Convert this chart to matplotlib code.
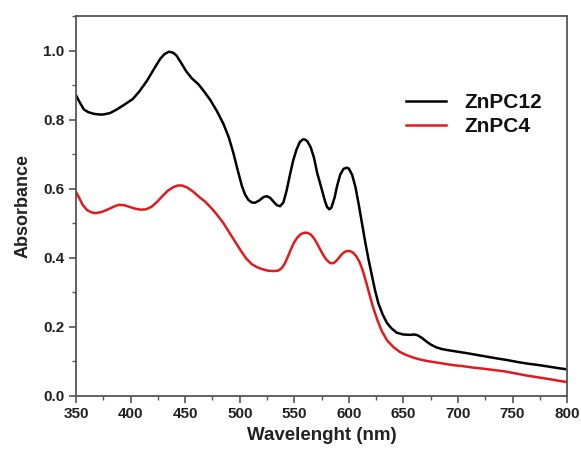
import numpy as np
import matplotlib
matplotlib.use("Agg")
import matplotlib.pyplot as plt
from matplotlib.ticker import MultipleLocator

plt.rcParams['font.family'] = ['Liberation Sans', 'DejaVu Sans']
plt.rcParams['font.weight'] = 'bold'

# wavelength (nm) and absorbance
wl_black = [350, 353, 357, 361, 366, 371, 375, 381, 387, 394, 402, 408, 415, 421, 427, 431,
            435, 439, 442, 446, 451, 456, 462, 467, 473, 479, 485, 490, 494, 498, 502, 505,
            508, 511, 514, 518, 522, 525, 528, 531, 534, 537, 540, 543, 546, 549, 552, 555,
            558, 560, 562, 565, 568, 571, 575, 578, 580, 582, 584, 587, 589, 592, 595, 598,
            600, 603, 606, 609, 612, 615, 618, 621, 624, 627, 631, 635, 639, 644, 650, 656,
            660, 663, 667, 671, 675, 680, 685, 690, 700, 708, 717, 726, 735, 745, 755, 765,
            775, 785, 793, 800]
ab_black = [0.87, 0.852, 0.83, 0.822, 0.817, 0.815, 0.815, 0.819, 0.829, 0.843, 0.86, 0.882,
            0.913, 0.945, 0.976, 0.99, 0.997, 0.994, 0.986, 0.966, 0.94, 0.92, 0.903, 0.883,
            0.857, 0.825, 0.788, 0.748, 0.705, 0.655, 0.607, 0.582, 0.567, 0.56, 0.559, 0.566,
            0.576, 0.578, 0.573, 0.562, 0.552, 0.549, 0.56, 0.595, 0.64, 0.682, 0.713, 0.735,
            0.743, 0.742, 0.737, 0.72, 0.69, 0.645, 0.6, 0.565, 0.547, 0.54, 0.545, 0.575,
            0.605, 0.64, 0.657, 0.661, 0.658, 0.64, 0.605, 0.555, 0.5, 0.445, 0.395, 0.35,
            0.305, 0.268, 0.235, 0.21, 0.195, 0.182, 0.177, 0.176, 0.177, 0.175, 0.167, 0.157,
            0.148, 0.14, 0.135, 0.132, 0.127, 0.123, 0.118, 0.113, 0.108, 0.103, 0.097, 0.092,
            0.088, 0.083, 0.079, 0.076]

wl_red = [350, 353, 356, 360, 364, 368, 373, 378, 384, 389, 394, 399, 404, 409, 414, 419,
          424, 429, 434, 439, 443, 447, 452, 457, 462, 468, 473, 479, 485, 491, 496, 501,
          506, 511, 516, 521, 526, 531, 535, 538, 541, 544, 547, 550, 553, 556, 559, 562,
          565, 568, 571, 574, 577, 580, 583, 586, 589, 592, 595, 598, 601, 604, 607, 610,
          613, 616, 619, 622, 626, 630, 635, 641, 647, 653, 660, 666, 672, 680, 688, 696,
          705, 714, 723, 733, 743, 753, 763, 773, 783, 792, 800]
ab_red = [0.59, 0.572, 0.553, 0.538, 0.531, 0.529, 0.532, 0.538, 0.547, 0.553, 0.552, 0.547,
          0.542, 0.539, 0.54, 0.547, 0.561, 0.578, 0.594, 0.604, 0.609, 0.609, 0.603, 0.592,
          0.578, 0.563, 0.547, 0.525, 0.5, 0.47, 0.445, 0.42, 0.397, 0.381, 0.372, 0.366,
          0.362, 0.361, 0.362, 0.368, 0.381, 0.402, 0.425, 0.445, 0.459, 0.468, 0.472, 0.472,
          0.467, 0.456, 0.44, 0.422, 0.405, 0.392, 0.384, 0.384, 0.392, 0.404, 0.414, 0.419,
          0.419, 0.414, 0.403, 0.386, 0.36, 0.327, 0.292, 0.258, 0.22, 0.188, 0.16, 0.14,
          0.126, 0.117, 0.109, 0.104, 0.1, 0.096, 0.092, 0.088, 0.085, 0.081, 0.078, 0.074,
          0.07, 0.064, 0.058, 0.053, 0.048, 0.043, 0.039]

fig = plt.figure(figsize=(5.81, 4.5), dpi=100)
ax = fig.add_axes([0.131, 0.121, 0.845, 0.843])

ax.plot(wl_black, ab_black, color='black', lw=1.8, label='ZnPC12', solid_joinstyle='round')
ax.plot(wl_red, ab_red, color='#e31a1c', lw=1.8, label='ZnPC4', solid_joinstyle='round')

ax.set_xlim(350, 800)
ax.set_ylim(0, 1.1)
ax.xaxis.set_major_locator(MultipleLocator(50))
ax.xaxis.set_minor_locator(MultipleLocator(25))
ax.yaxis.set_minor_locator(MultipleLocator(0.1))
ax.set_yticks([0.0, 0.2, 0.4, 0.6, 0.8, 1.0])
ax.set_yticklabels(['0.0', '0.2', '0.4', '0.6', '0.8', '1.0'])

for s in ax.spines.values():
    s.set_color('#555555')
    s.set_linewidth(1.3)
ax.tick_params(which='both', direction='out', colors='#555555', labelcolor='#222222',
               top=False, right=False)
ax.tick_params(which='major', length=5, width=1.2, labelsize=11)
ax.tick_params(which='minor', length=3, width=1.0)

ax.set_xlabel('Wavelenght (nm)', fontsize=13.5, fontweight='bold', color='#222222', labelpad=4)
ax.set_ylabel('Absorbance', fontsize=13, fontweight='bold', color='#222222', labelpad=8)

ax.legend(loc='upper right', bbox_to_anchor=(0.988, 0.847), frameon=False, fontsize=15,
          handlelength=1.9, handletextpad=0.9, labelspacing=0.25, labelcolor='#111111')

fig.savefig('out.png', dpi=100)
